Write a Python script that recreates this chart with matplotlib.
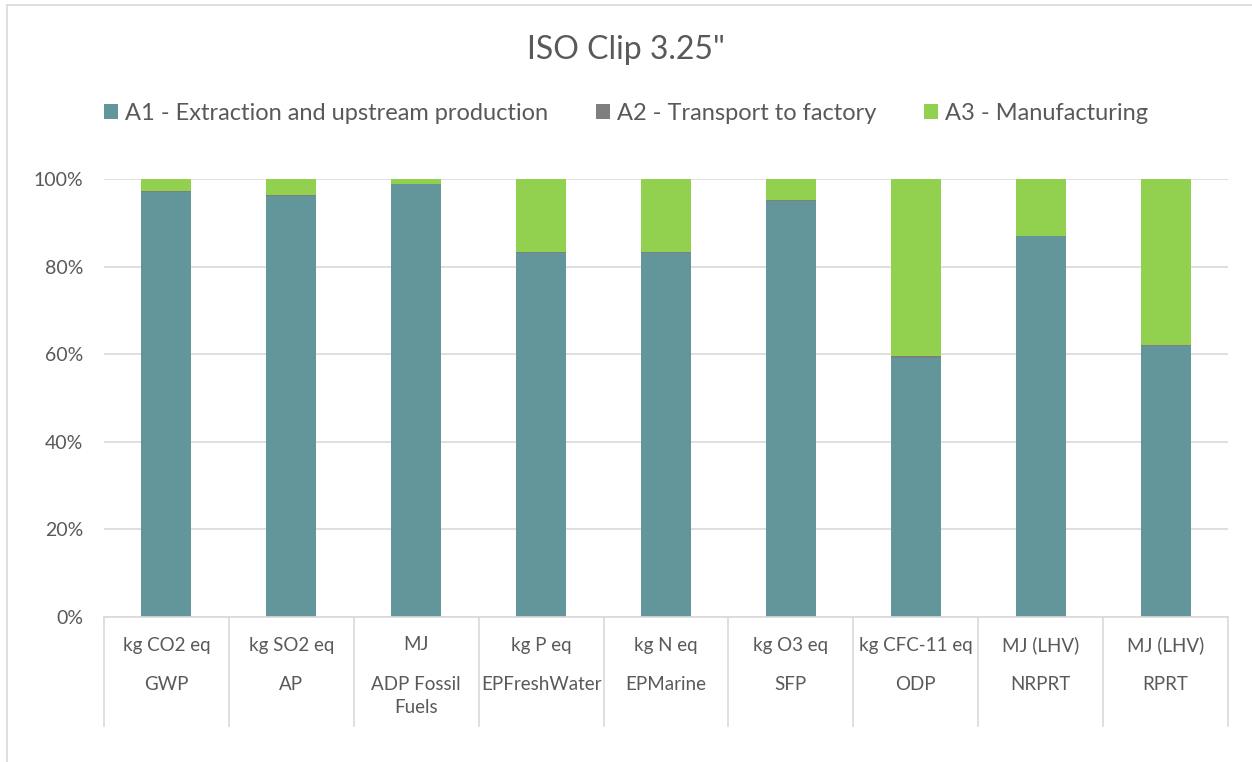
import matplotlib
matplotlib.use('Agg')
import matplotlib.pyplot as plt
import matplotlib.transforms as mtrans
from matplotlib.lines import Line2D
import numpy as np

plt.rcParams['font.family'] = ['Lato', 'DejaVu Sans']

# chart data
categories = ['GWP', 'AP', 'ADP Fossil\nFuels', 'EPFreshWater', 'EPMarine', 'SFP', 'ODP', 'NRPRT', 'RPRT']
units = ['kg CO2 eq', 'kg SO2 eq', 'MJ', 'kg P eq', 'kg N eq', 'kg O3 eq', 'kg CFC-11 eq', 'MJ (LHV)', 'MJ (LHV)']
a1 = [97.1, 96.2, 98.8, 83.2, 83.2, 95.0, 59.2, 86.9, 61.9]
a2 = [0.1, 0.1, 0.1, 0.1, 0.1, 0.1, 0.3, 0.1, 0.1]
a3 = [100 - x - y for x, y in zip(a1, a2)]
series_names = ['A1 - Extraction and upstream production', 'A2 - Transport to factory', 'A3 - Manufacturing']
colors = ['#62969A', '#7F7F7F', '#92D050']

txt = '#595959'
grid = '#D9D9D9'

fig = plt.figure(figsize=(12.52, 7.62), dpi=100)
ax = fig.add_axes([104 / 1252, (762 - 617) / 762, (1228 - 104) / 1252, (617 - 179) / 762])

x = np.arange(len(categories))
w = 0.4
b1 = ax.bar(x, a1, w, color=colors[0], label=series_names[0])
b2 = ax.bar(x, a2, w, bottom=a1, color=colors[1], label=series_names[1])
bottom3 = [p + q for p, q in zip(a1, a2)]
b3 = ax.bar(x, a3, w, bottom=bottom3, color=colors[2], label=series_names[2])

ax.set_xlim(-0.5, len(categories) - 0.5)
ax.set_ylim(0, 100)
ax.set_yticks(range(0, 101, 20))
ax.set_yticklabels(['%d%%' % v for v in range(0, 101, 20)], fontsize=14, color=txt)
ax.tick_params(axis='y', length=0, pad=15)
ax.set_xticks([])
ax.yaxis.grid(True, color=grid, linewidth=1.2)
ax.set_axisbelow(True)
for s in ['top', 'right', 'left']:
    ax.spines[s].set_visible(False)
ax.spines['bottom'].set_color(grid)
ax.spines['bottom'].set_linewidth(1.2)

# multi-level category axis
trans = mtrans.blended_transform_factory(ax.transData, ax.transAxes)
sep_bottom = -(726 - 617) / (617 - 179)
for i in range(len(categories) + 1):
    ax.plot([i - 0.5, i - 0.5], [0, sep_bottom], transform=trans, color=grid,
            linewidth=1.2, clip_on=False)
for i in range(len(categories)):
    ax.text(i, -(645 - 617) / 438, units[i], transform=trans, ha='center', va='center',
            fontsize=13.5, color=txt)
    ax.text(i, -(676 - 617) / 438, categories[i], transform=trans, ha='center', va='top',
            fontsize=13.5, color=txt, linespacing=1.4)

fig.text(0.5, 1 - 50 / 762, 'ISO Clip 3.25"', ha='center', va='center', fontsize=23, color=txt)

leg = fig.legend(handles=[b1, b2, b3], loc='center', bbox_to_anchor=(0.5, 1 - 113 / 762),
                 ncol=3, frameon=False, fontsize=17, handlelength=0.6, handleheight=0.6,
                 handletextpad=0.3, columnspacing=2.0)
for t in leg.get_texts():
    t.set_color(txt)

# chart area border (left and top visible)
fig.add_artist(Line2D([7 / 1252, 7 / 1252], [0, 1 - 5 / 762], transform=fig.transFigure, color=grid, linewidth=1.2))
fig.add_artist(Line2D([7 / 1252, 1], [1 - 5 / 762, 1 - 5 / 762], transform=fig.transFigure, color=grid, linewidth=1.2))

plt.savefig('out.png', dpi=100)
plt.close()
